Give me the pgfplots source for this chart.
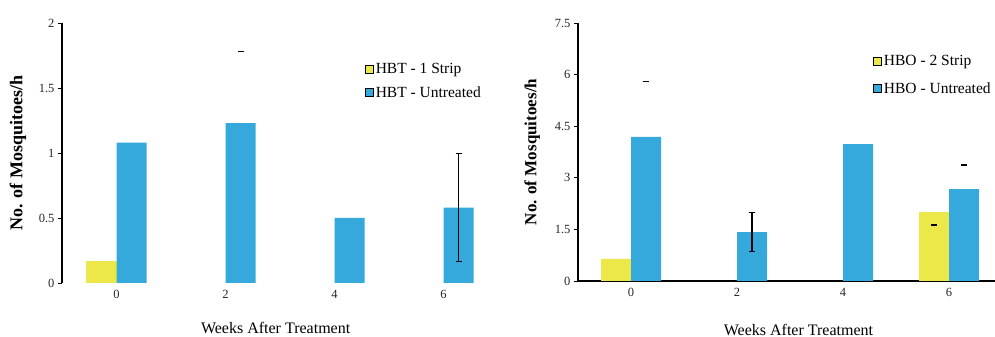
\documentclass[border=0pt]{standalone}
\usepackage{pgfplots}
\pgfplotsset{compat=1.18}
\usepackage{fontspec}
\setmainfont{Liberation Serif}
\definecolor{byel}{HTML}{EDE84A}
\definecolor{bblu}{HTML}{35A8DC}
\pgfplotsset{
  mystyle/.style={
    scale only axis,
    axis lines*=left,
    axis line style={line width=1.3pt},
    x axis line style={draw=none},
    xtick={0,1,2,3},
    xticklabels={0,2,4,6},
    major x tick style={draw=none},
    extra x ticks={0.5,1.5,2.5,3.5},
    extra x tick labels={},
    extra x tick style={tick style={line width=0.8pt,black}, major tick length=4pt, tickwidth=4pt},
    xmin=-0.5, xmax=3.5, ymin=0,
    ytick style={line width=0.8pt,black},
    major tick length=4pt,
    tick align=outside,
    tick label style={font=\fontsize{12.5}{12.5}\selectfont, text=black!85},
    /pgf/number format/assume math mode=true,
    clip=false,
    legend cell align=left,
    legend style={draw=none, fill=none, font=\fontsize{15.5}{16}\selectfont, row sep=7pt},
    legend image code/.code={\draw[##1, draw=black, line width=0.6pt] (0pt,-4pt) rectangle (8pt,4pt);},
  }
}
\begin{document}
\begin{tikzpicture}
\path[use as bounding box] (0,0) rectangle (995pt,337pt);
% left
\begin{axis}[mystyle,
  at={(62pt,54pt)}, anchor=south west,
  width=436pt, height=260pt,
  ymax=2, ytick={0,0.5,1,1.5,2},
  yticklabels={0,0.5,1,1.5,2},
  xlabel={Weeks After Treatment},
  xlabel style={at={(axis description cs:0.49,-0.173)}, anchor=center, font=\fontsize{16}{16}\selectfont},
  ylabel={\textbf{No. of Mosquitoes/h}},
  ylabel style={at={(axis description cs:-0.101,0.5)}, anchor=center, font=\fontsize{18}{18}\selectfont},
  legend style={at={(axis description cs:0.688,0.86)}, anchor=north west},
]
\addplot[ybar, bar width=30pt, bar shift=-15pt, fill=byel, draw=none] coordinates {(0,0.17)};
\addlegendentry{HBT - 1 Strip}
\addplot[ybar, bar width=30pt, bar shift=15pt, fill=bblu, draw=none] coordinates {(0,1.08) (1,1.23) (2,0.50) (3,0.58)};
\addlegendentry{HBT - Untreated}
\addplot[draw=none, mark=none, forget plot, error bars/.cd, y dir=both, y explicit,
  error bar style={black, line width=1.5pt}, error mark options={rotate=90, mark size=3pt, line width=1pt}]
  coordinates {(3.1376,0.58) +- (0,0.415)};
\addplot[only marks, mark=-, mark size=3pt, mark options={line width=1.2pt}, forget plot] coordinates {(1.1376,1.78)};
\end{axis}
% right
\begin{axis}[mystyle,
  at={(578pt,56pt)}, anchor=south west,
  width=424pt, height=258pt,
  ymax=7.5, ytick={0,1.5,3,4.5,6,7.5},
  yticklabels={0,1.5,3,4.5,6,7.5},
  x axis line style={draw=black},
  xlabel={Weeks After Treatment},
  xlabel style={at={(axis description cs:0.52,-0.19)}, anchor=center, font=\fontsize{16}{16}\selectfont},
  ylabel={\textbf{No. of Mosquitoes/h}},
  ylabel style={at={(axis description cs:-0.108,0.5)}, anchor=center, font=\fontsize{17}{17}\selectfont},
  legend style={at={(axis description cs:0.689,0.89)}, anchor=north west, row sep=11pt},
]
\addplot[ybar, bar width=30pt, bar shift=-15pt, fill=byel, draw=none] coordinates {(0,0.64) (3,2.0)};
\addlegendentry{HBO - 2 Strip}
\addplot[ybar, bar width=30pt, bar shift=15pt, fill=bblu, draw=none] coordinates {(0,4.19) (1,1.42) (2,3.98) (3,2.67)};
\addlegendentry{HBO - Untreated}
\addplot[draw=none, mark=none, forget plot, error bars/.cd, y dir=both, y explicit,
  error bar style={black, line width=1.5pt}, error mark options={rotate=90, mark size=3pt, line width=1pt}]
  coordinates {(1.1415,1.42) +- (0,0.56)};
\addplot[only marks, mark=-, mark size=3pt, mark options={line width=1.2pt}, forget plot] coordinates {(0.1415,5.81) (2.8585,1.63) (3.1415,3.37)};
\end{axis}
\end{tikzpicture}
\end{document}
